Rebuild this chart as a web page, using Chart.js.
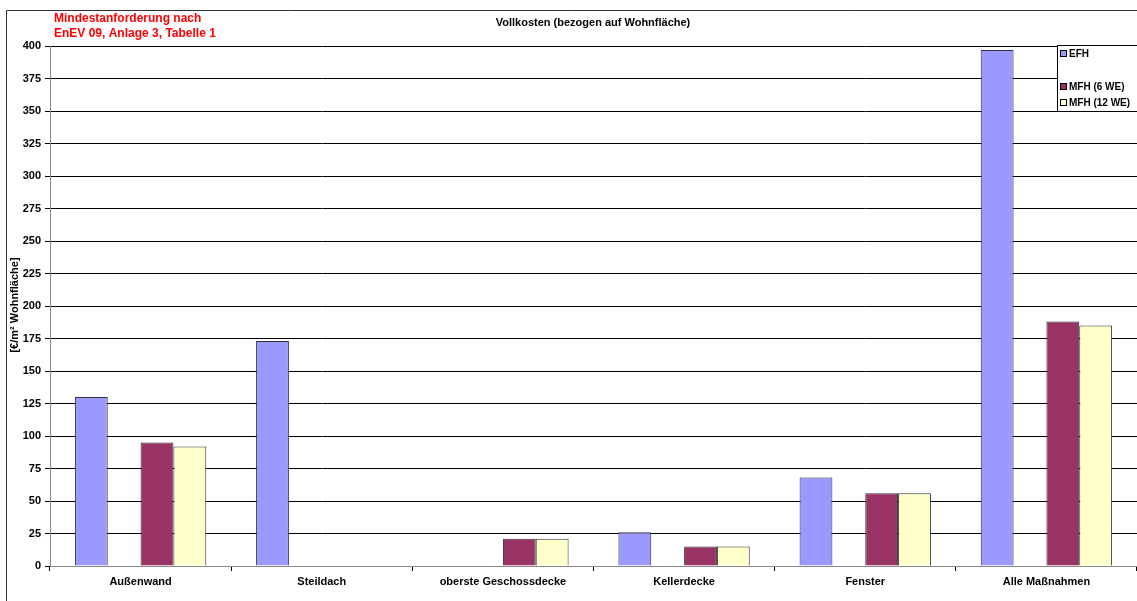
<!DOCTYPE html>
<html>
<head>
<meta charset="utf-8">
<script src="https://cdn.jsdelivr.net/npm/chart.js@4.4.1/dist/chart.umd.min.js"></script>
<style>
  html, body { margin: 0; padding: 0; background: #fff; overflow: hidden; }
  #wrap { width: 1137px; height: 601px; }
</style>
</head>
<body>
<div id="wrap"><canvas id="chart" width="1137" height="601"></canvas></div>
<script>
// categories and values (€/m² Wohnfläche)
const categories = ["Außenwand", "Steildach", "oberste Geschossdecke", "Kellerdecke", "Fenster", "Alle Maßnahmen"];
const efh = [130, 173, null, 26, 68, 397];
const leer = [null, null, null, null, null, null];
const mfh6 = [95, null, 21, 15, 56, 188];
const mfh12 = [92, null, 21, 15, 56, 185];

const FONT = "'Liberation Sans', Arial, sans-serif";

// title, red note, y title, legend box and outer frame
const decor = {
    id: "decor",
    afterDraw(chart) {
        const ctx = chart.ctx;
        ctx.save();

        // outer frame
        ctx.strokeStyle = "#333";
        ctx.lineWidth = 1;
        ctx.beginPath();
        ctx.moveTo(6.5, 610);
        ctx.lineTo(6.5, 10.5);
        ctx.lineTo(1140, 10.5);
        ctx.stroke();

        ctx.textBaseline = "middle";
        ctx.fillStyle = "#ff0000";
        ctx.font = "bold 12px " + FONT;
        ctx.textAlign = "left";
        ctx.fillText("Mindestanforderung nach", 54, 19);
        ctx.fillText("EnEV 09, Anlage 3, Tabelle 1", 54, 34);

        ctx.fillStyle = "#000";
        ctx.font = "bold 11px " + FONT;
        ctx.textAlign = "center";
        ctx.fillText("Vollkosten (bezogen auf Wohnfläche)", 593, 23);

        ctx.save();
        ctx.translate(15, 305);
        ctx.rotate(-Math.PI / 2);
        ctx.font = "bold 11px " + FONT;
        ctx.fillText("[€/m² Wohnfläche]", 0, 0);
        ctx.restore();

        // legend
        ctx.fillStyle = "#fff";
        ctx.fillRect(1057, 45, 84, 66);
        ctx.strokeStyle = "#000";
        ctx.strokeRect(1057.5, 45.5, 84, 66);
        const rows = [54, 70, 87, 103];
        chart.data.datasets.forEach((ds, i) => {
            if (!ds.label) return;
            const y = rows[i];
            ctx.fillStyle = ds.backgroundColor;
            ctx.fillRect(1060, y - 4, 7, 7);
            ctx.strokeStyle = "#000";
            ctx.strokeRect(1060.5, y - 3.5, 6, 6);
            ctx.fillStyle = "#000";
            ctx.textAlign = "left";
            ctx.font = "bold 10px " + FONT;
            ctx.fillText(ds.label, 1069, y);
        });

        ctx.restore();
    }
};

new Chart(document.getElementById("chart"), {
    type: "bar",
    data: {
        labels: categories,
        datasets: [
            { label: "EFH", data: efh, backgroundColor: "#9999ff" },
            { label: "", data: leer, backgroundColor: "#ffffff" },
            { label: "MFH (6 WE)", data: mfh6, backgroundColor: "#993366" },
            { label: "MFH (12 WE)", data: mfh12, backgroundColor: "#ffffcc" },
        ],
    },
    options: {
        responsive: false,
        animation: false,
        layout: { padding: { top: 46, left: 0, right: 0, bottom: 0 } },
        datasets: {
            bar: {
                categoryPercentage: 0.725,
                barPercentage: 1,
                borderColor: "#333",
                borderWidth: 1,
                borderSkipped: "bottom",
            },
        },
        plugins: {
            legend: { display: false },
            title: { display: false },
            tooltip: { enabled: false },
        },
        scales: {
            x: {
                afterFit(scale) { scale.height = 35; },
                grid: {
                    offset: true,
                    drawOnChartArea: false,
                    color: "#000",
                    tickLength: 5,
                },
                border: { color: "#888", width: 1 },
                ticks: {
                    color: "#000",
                    font: { family: FONT, size: 11, weight: "bold" },
                    padding: 4,
                    maxRotation: 0,
                    autoSkip: false,
                },
            },
            y: {
                min: 0,
                max: 400,
                afterFit(scale) { scale.width = 50; },
                grid: { color: "#000", tickLength: 5 },
                border: { color: "#888", width: 1 },
                ticks: {
                    stepSize: 25,
                    color: "#000",
                    font: { family: FONT, size: 11, weight: "bold" },
                    padding: 4,
                },
            },
        },
    },
    plugins: [decor],
});
</script>
</body>
</html>
